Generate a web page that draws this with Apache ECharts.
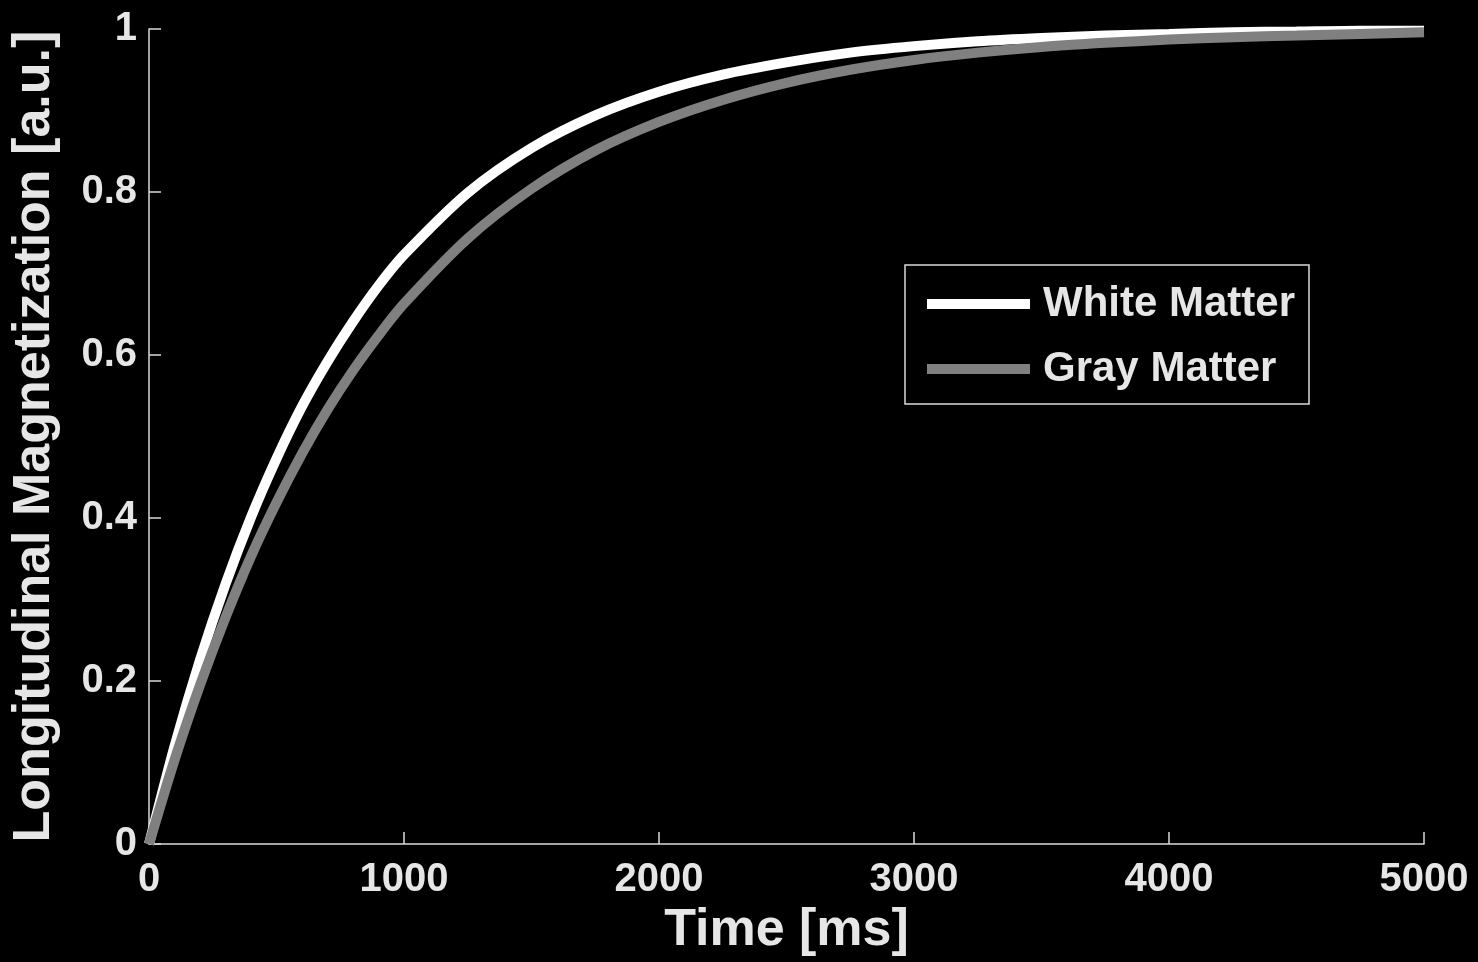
<!DOCTYPE html>
<html>
<head>
<meta charset="utf-8">
<script src="https://cdn.jsdelivr.net/npm/echarts@6/dist/echarts.min.js"></script>
<style>
html,body{margin:0;padding:0;background:#000;}
#chart{width:1478px;height:962px;}
</style>
</head>
<body>
<div id="chart"></div>
<script>
// Time samples (ms)
const timeMs = [0,100,200,300,400,500,600,700,800,900,1000,1250,1500,1750,2000,2250,2500,2750,3000,3250,3500,3750,4000,4250,4500,4750,5000];
// Longitudinal magnetization
const whiteMatter = [0,0.120,0.226,0.319,0.401,0.473,0.537,0.592,0.641,0.685,0.723,0.799,0.854,0.894,0.923,0.944,0.959,0.971,0.979,0.985,0.989,0.992,0.994,0.996,0.997,0.998,0.998];
const grayMatter  = [0,0.103,0.195,0.278,0.353,0.419,0.479,0.533,0.581,0.624,0.663,0.743,0.804,0.851,0.886,0.913,0.934,0.950,0.962,0.971,0.978,0.983,0.987,0.990,0.992,0.994,0.996];
const seriesNames = ['White Matter','Gray Matter'];
const xTicks = [0,1000,2000,3000,4000,5000];
const yTicks = [0,0.2,0.4,0.6,0.8,1];

const pair = (xs, ys) => xs.map((x,i)=>[x, ys[i]]);
const FONT = '"Liberation Sans", Arial, Helvetica, sans-serif';
const TXT = '#e6e6e6';
const AX = '#d9d9d9';

const chart = echarts.init(document.getElementById('chart'), null, {renderer:'canvas'});
chart.setOption({
  backgroundColor:'#000',
  animation:false,
  grid:{left:149, right:54, top:29, bottom:115, containLabel:false},
  xAxis:{
    type:'value', min:xTicks[0], max:xTicks[xTicks.length-1], interval:1000,
    name:'Time [ms]', nameLocation:'middle', nameGap:59,
    nameTextStyle:{color:TXT, fontSize:52, fontWeight:'bold', fontFamily:FONT, lineHeight:52},
    axisLine:{show:true, lineStyle:{color:AX, width:1.5}},
    axisTick:{show:true, inside:true, length:12, lineStyle:{color:AX, width:1.5}},
    axisLabel:{color:TXT, fontSize:40, fontWeight:'bold', fontFamily:FONT, margin:16, lineHeight:40,
               formatter:(v)=>String(v)},
    splitLine:{show:false}
  },
  yAxis:{
    type:'value', min:yTicks[0], max:yTicks[yTicks.length-1], interval:0.2,
    name:'Longitudinal Magnetization [a.u.]', nameLocation:'middle', nameGap:88,
    nameTextStyle:{color:TXT, fontSize:52, fontWeight:'bold', fontFamily:FONT, lineHeight:52},
    axisLine:{show:true, lineStyle:{color:AX, width:1.5}},
    axisTick:{show:true, inside:true, length:12, lineStyle:{color:AX, width:1.5}},
    axisLabel:{color:TXT, fontSize:40, fontWeight:'bold', fontFamily:FONT, margin:12,
               formatter:(v)=>String(Math.round(v*10)/10)},
    splitLine:{show:false}
  },
  legend:{
    orient:'vertical', left:905, top:265,
    padding:[18,14,14,22], itemGap:23,
    itemWidth:103, itemHeight:10, icon:'rect',
    borderColor:AX, borderWidth:1.5, backgroundColor:'#000',
    textStyle:{color:TXT, fontSize:42, fontWeight:'bold', fontFamily:FONT, lineHeight:42, padding:[0,0,0,8]},
    data:seriesNames
  },
  series:[
    {name:seriesNames[0], type:'line', data:pair(timeMs, whiteMatter), smooth:0.3, showSymbol:false, clip:false,
     lineStyle:{color:'#ffffff', width:10}, itemStyle:{color:'#ffffff'}},
    {name:seriesNames[1], type:'line', data:pair(timeMs, grayMatter), smooth:0.3, showSymbol:false, clip:false,
     lineStyle:{color:'#808080', width:10}, itemStyle:{color:'#808080'}}
  ]
});
</script>
</body>
</html>
